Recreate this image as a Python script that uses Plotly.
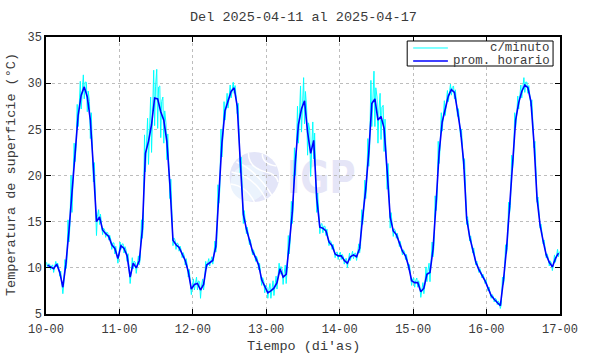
import base64
import numpy as np
import pandas as pd
import plotly.graph_objects as go

# ---------------- data ----------------
start = pd.Timestamp("2025-04-10 00:00")
title_text = "Del 2025-04-11 al 2025-04-17"
x_title = "Tiempo (di'as)"
y_title = "Temperatura de superficie (°C)"
tick_days = ["10-00", "11-00", "12-00", "13-00", "14-00", "15-00", "16-00", "17-00"]
y_ticks = [5, 10, 15, 20, 25, 30, 35]

# hourly mean ("prom. horario"), one value per hour, per day
day10 = [10.3, 10.1, 9.9, 10.4, 9.5, 7.9, 10.4, 14.0, 18.0, 22.5, 26.5, 28.7,
         29.6, 28.5, 26.0, 20.8, 15.0, 15.5, 14.1, 13.7, 13.4, 12.5, 12.1, 11.0]
day11 = [12.4, 12.1, 11.3, 9.0, 10.5, 10.0, 10.8, 14.2, 22.4, 23.7, 25.5, 28.4,
         28.3, 26.9, 26.0, 23.7, 19.0, 13.0, 12.5, 12.2, 11.5, 10.8, 9.6, 7.7]
day12 = [8.2, 8.3, 7.6, 8.2, 10.3, 10.6, 10.8, 12.3, 18.0, 23.5, 27.0, 28.1,
         29.1, 29.5, 27.5, 21.5, 15.8, 14.2, 12.9, 11.8, 11.1, 10.3, 8.7, 7.9]
day13 = [7.3, 7.5, 7.8, 8.4, 9.9, 9.0, 9.3, 12.5, 16.0, 21.5, 25.5, 27.2,
         28.1, 24.7, 22.4, 23.8, 17.5, 14.4, 14.3, 14.0, 12.8, 12.4, 11.5, 11.3]
day14 = [11.3, 10.8, 10.5, 11.2, 11.4, 11.2, 12.1, 15.5, 18.5, 22.5, 27.8, 28.3,
         26.0, 26.4, 25.1, 20.5, 15.5, 14.0, 13.6, 12.7, 11.8, 11.3, 10.2, 8.6]
day15 = [8.4, 8.4, 7.4, 7.8, 9.3, 9.5, 12.0, 17.0, 22.5, 25.8, 27.3, 28.6,
         29.3, 29.0, 27.0, 24.8, 21.5, 15.3, 13.3, 12.0, 10.6, 9.8, 9.2, 8.6]
day16 = [7.8, 7.0, 6.6, 6.3, 5.9, 8.6, 12.0, 16.5, 21.5, 26.0, 27.9, 29.1,
         29.8, 29.5, 28.0, 23.5, 17.5, 14.6, 12.9, 11.4, 10.6, 10.1, 11.0, 11.6]

# half-range of the per-minute readings ("c/minuto") inside each hour
spread10 = [0.3, 0.3, 0.4, 0.3, 0.4, 0.7, 0.5, 1.2, 2.0, 1.0, 1.2, 1.5,
            1.3, 1.6, 2.0, 1.5, 1.5, 0.8, 0.5, 0.4, 0.4, 0.5, 0.6, 0.5]
spread11 = [0.4, 0.5, 0.6, 0.7, 0.6, 0.6, 0.5, 1.0, 2.0, 2.5, 3.0, 3.0,
            3.2, 2.8, 2.5, 2.0, 1.5, 0.6, 0.5, 0.4, 0.4, 0.5, 0.6, 0.6]
spread12 = [0.6, 0.7, 0.9, 0.6, 0.4, 0.4, 0.4, 0.6, 1.0, 1.5, 1.0, 0.8,
            0.7, 0.6, 0.8, 1.2, 1.0, 0.5, 0.4, 0.4, 0.4, 0.5, 0.6, 0.6]
spread13 = [0.6, 0.8, 0.8, 0.7, 0.6, 0.8, 1.0, 1.0, 1.2, 1.5, 2.0, 2.5,
            2.5, 2.5, 2.5, 2.0, 1.5, 0.7, 0.5, 0.5, 0.4, 0.4, 0.4, 0.4]
spread14 = [0.4, 0.4, 0.5, 0.4, 0.4, 0.4, 0.5, 0.8, 1.0, 1.5, 2.5, 3.0,
            2.5, 2.5, 2.5, 2.0, 1.2, 0.6, 0.4, 0.4, 0.4, 0.4, 0.4, 0.5]
spread15 = [0.5, 0.5, 0.6, 0.6, 0.8, 1.0, 0.8, 0.8, 1.2, 1.0, 0.8, 0.6,
            0.6, 0.7, 0.6, 0.6, 0.8, 0.6, 0.4, 0.4, 0.3, 0.3, 0.3, 0.3]
spread16 = [0.3, 0.3, 0.3, 0.3, 0.3, 0.4, 0.5, 0.6, 0.7, 0.8, 0.7, 0.7,
            0.8, 0.6, 0.5, 0.5, 0.4, 0.3, 0.3, 0.3, 0.4, 0.4, 0.4, 0.4]

hourly = np.array(day10 + day11 + day12 + day13 + day14 + day15 + day16)
spread = np.array(spread10 + spread11 + spread12 + spread13 + spread14 + spread15 + spread16)

n = len(hourly)
t_hour = [start + pd.Timedelta(hours=i + 0.5) for i in range(n)]

t_min, v_min = [], []
for i in range(n):
    t_min.append(start + pd.Timedelta(hours=i + 0.2))
    v_min.append(hourly[i] + spread[i])
    t_min.append(start + pd.Timedelta(hours=i + 0.5))
    v_min.append(hourly[i] - spread[i])
    t_min.append(start + pd.Timedelta(hours=i + 0.8))
    v_min.append(hourly[i] + 0.4 * spread[i])

FONT = "Liberation Mono"
TXT = "#3a3a3a"

fig = go.Figure()
fig.add_trace(go.Scatter(x=t_min, y=v_min, mode="lines", name="c/minuto",
                         line=dict(color="#00ffff", width=1)))
fig.add_trace(go.Scatter(x=t_hour, y=hourly, mode="lines", name="prom. horario",
                         line=dict(color="#0000ff", width=1.6)))

day_vals = [start + pd.Timedelta(days=d) for d in range(len(tick_days))]

fig.update_layout(
    width=590, height=354,
    margin=dict(l=46, r=26, t=37, b=40),
    paper_bgcolor="white", plot_bgcolor="white",
    showlegend=False,
    font=dict(family=FONT, size=12, color=TXT),
    xaxis=dict(type="date", range=[day_vals[0], day_vals[-1]],
               tickvals=day_vals, ticktext=tick_days,
               showline=True, linecolor="black", linewidth=1.5, mirror="ticks",
               ticks="inside", ticklen=5, tickcolor="black", tickwidth=1,
               showgrid=True, gridcolor="#bdbdbd", griddash="dot", gridwidth=1,
               zeroline=False, ticklabelstandoff=3,
               tickfont=dict(family=FONT, size=12, color=TXT)),
    yaxis=dict(range=[5, 35], tickvals=y_ticks,
               showline=True, linecolor="black", linewidth=1.5, mirror="ticks",
               ticks="inside", ticklen=5, tickcolor="black", tickwidth=1,
               showgrid=True, gridcolor="#bdbdbd", griddash="dot", gridwidth=1,
               zeroline=False,
               tickfont=dict(family=FONT, size=12, color=TXT)),
)

# titles
fig.add_annotation(text=title_text, xref="paper", yref="paper", x=0.5, y=1.069,
                   showarrow=False, xanchor="center", yanchor="middle",
                   font=dict(family=FONT, size=13.5, color=TXT))
fig.add_annotation(text=x_title, xref="paper", yref="paper", x=0.5, y=-0.118,
                   showarrow=False, xanchor="center", yanchor="middle",
                   font=dict(family=FONT, size=13.5, color=TXT))
fig.add_annotation(text=y_title, xref="paper", yref="paper", x=-0.066, y=0.502,
                   showarrow=False, xanchor="center", yanchor="middle", textangle=-90,
                   font=dict(family=FONT, size=13.5, color=TXT))

# legend (gnuplot style, right-aligned text)
fig.add_shape(type="rect", xref="paper", yref="paper", x0=0.7027, x1=0.9865,
              y0=0.8953, y1=0.9856, line=dict(color="black", width=1),
              fillcolor="white", layer="above")
for yy, name, col, w in [(0.9603, "c/minuto", "#00ffff", 1), (0.9134, "prom. horario", "#0000ff", 1.6)]:
    fig.add_shape(type="line", xref="paper", yref="paper", x0=0.7143, x1=0.7819,
                  y0=yy, y1=yy, line=dict(color=col, width=w), layer="above")
    fig.add_annotation(text=name, xref="paper", yref="paper", x=0.9846, y=yy,
                       showarrow=False, xanchor="right", yanchor="middle",
                       font=dict(family=FONT, size=12.4, color=TXT))

# watermark logo (behind data)
svg = """<svg xmlns='http://www.w3.org/2000/svg' width='134' height='54' viewBox='0 0 134 54'>
<circle cx='28' cy='27' r='25' fill='#e3e5f8'/>
<circle cx='22' cy='33' r='18' fill='#ebf3fd'/>
<path d='M10 12 Q30 20 46 46' stroke='white' stroke-width='1.5' fill='none'/>
<path d='M5 22 Q28 26 40 50' stroke='white' stroke-width='1.5' fill='none'/>
<path d='M4 34 Q20 36 28 52' stroke='white' stroke-width='1.5' fill='none'/>
<path d='M22 3 Q22 18 40 22 Q50 24 52 32' stroke='white' stroke-width='1.5' fill='none'/>
<path d='M36 4 Q36 14 50 16' stroke='white' stroke-width='1.5' fill='none'/>
<text x='61' y='43' font-family='DejaVu Sans' font-weight='bold' font-size='44' fill='#e5e5f7' textLength='69' lengthAdjust='spacingAndGlyphs'>IGP</text>
</svg>"""
src = "data:image/svg+xml;base64," + base64.b64encode(svg.encode()).decode()
x_img = start + pd.Timedelta(hours=(228 - 46) / 518 * 168)
fig.add_layout_image(source=src, xref="x", yref="y", x=x_img, y=35 - (150 - 37) / 9.233,
                     sizex=134 / 518 * 168 * 3600 * 1000, sizey=54 / 9.233,
                     xanchor="left", yanchor="top", sizing="stretch", layer="below")

fig.write_html("out.html")
